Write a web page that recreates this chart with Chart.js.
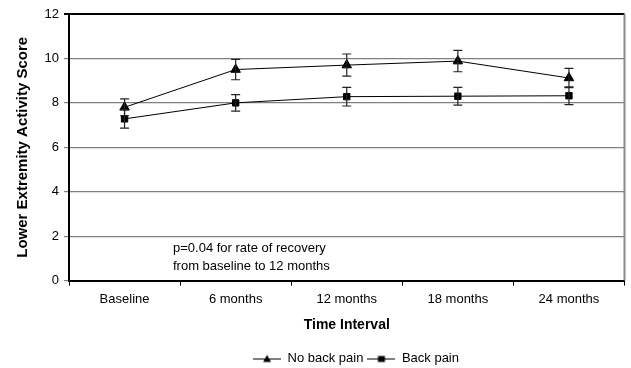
<!DOCTYPE html>
<html>
<head>
<meta charset="utf-8">
<script src="https://cdn.jsdelivr.net/npm/chart.js@4"></script>
<style>
  html, body { margin: 0; padding: 0; background: #fff; }
  #wrap { width: 631px; height: 368px; }
</style>
</head>
<body>
<div id="wrap"><canvas id="chart" width="631" height="368"></canvas></div>
<script>
// values
const categories = ['Baseline', '6 months', '12 months', '18 months', '24 months'];
const noBackPain = [7.8, 9.5, 9.7, 9.88, 9.12];
const noBackPainErr = [0.38, 0.46, 0.5, 0.48, 0.43];
const backPain = [7.28, 8.0, 8.28, 8.3, 8.32];
const backPainErr = [0.42, 0.37, 0.42, 0.4, 0.4];
const yTicks = [0, 2, 4, 6, 8, 10, 12];

Chart.defaults.font.family = "'Liberation Sans', Arial, sans-serif";
Chart.defaults.color = '#000';

// legend symbol: line - marker - line
function legendIcon(shape) {
  const c = document.createElement('canvas');
  c.width = 28; c.height = 10;
  const g = c.getContext('2d');
  g.strokeStyle = '#000'; g.lineWidth = 1;
  g.beginPath(); g.moveTo(0, 5.5); g.lineTo(28, 5.5); g.stroke();
  g.fillStyle = '#000';
  if (shape === 'triangle') {
    g.beginPath(); g.moveTo(14, 1.5); g.lineTo(18, 8.5); g.lineTo(10, 8.5); g.closePath(); g.fill();
  } else {
    g.fillRect(10.5, 2.5, 7, 6);
  }
  return c;
}

// error bars
const errorBars = {
  id: 'errorBars',
  afterDatasetsDraw(chart) {
    const { ctx } = chart;
    const y = chart.scales.y;
    const errs = [noBackPainErr, backPainErr];
    chart.data.datasets.forEach((ds, di) => {
      const meta = chart.getDatasetMeta(di);
      meta.data.forEach((pt, i) => {
        const v = ds.data[i], e = errs[di][i];
        const yt = y.getPixelForValue(v + e), yb = y.getPixelForValue(v - e);
        ctx.save();
        ctx.strokeStyle = '#222';
        ctx.lineWidth = 1.2;
        ctx.beginPath();
        ctx.moveTo(pt.x, yt); ctx.lineTo(pt.x, yb);
        ctx.moveTo(pt.x - 4.5, yt); ctx.lineTo(pt.x + 4.5, yt);
        ctx.moveTo(pt.x - 4.5, yb); ctx.lineTo(pt.x + 4.5, yb);
        ctx.stroke();
        ctx.restore();
      });
    });
  }
};

// right border, the note, and legend shifted under the plot
const extras = {
  id: 'extras',
  afterLayout(chart) {
    const lg = chart.legend;
    lg.left += 42; lg.right += 42;
    lg.top += 8; lg.bottom += 8;
  },
  afterDraw(chart) {
    const { ctx, chartArea: a } = chart;
    const y = chart.scales.y;
    ctx.save();
    ctx.strokeStyle = '#888';
    ctx.lineWidth = 2;
    ctx.beginPath();
    ctx.moveTo(a.right, a.top); ctx.lineTo(a.right, a.bottom);
    ctx.stroke();
    ctx.fillStyle = '#000';
    ctx.font = "13px 'Liberation Sans', Arial, sans-serif";
    ctx.textBaseline = 'middle';
    ctx.fillText('p=0.04 for rate of recovery', a.left + 104, y.getPixelForValue(1.45));
    ctx.fillText('from baseline to 12 months', a.left + 104, y.getPixelForValue(0.62));
    ctx.restore();
  }
};

new Chart(document.getElementById('chart'), {
  type: 'line',
  data: {
    labels: categories,
    datasets: [{
      label: 'No back pain',
      data: noBackPain,
      borderColor: '#000',
      backgroundColor: '#000',
      borderWidth: 1,
      pointStyle: 'triangle',
      pointRadius: 5.5,
      pointHoverRadius: 5.5
    }, {
      label: 'Back pain',
      data: backPain,
      borderColor: '#000',
      backgroundColor: '#000',
      borderWidth: 1,
      pointStyle: 'rect',
      pointRadius: 4.5,
      pointHoverRadius: 4.5
    }]
  },
  options: {
    responsive: false,
    animation: false,
    layout: { padding: { top: 14, right: 3, left: 0, bottom: 1 } },
    plugins: {
      tooltip: { enabled: false },
      legend: {
        position: 'bottom',
        labels: {
          usePointStyle: true,
          pointStyleWidth: 28,
          boxHeight: 10,
          font: { size: 13 },
          padding: 4,
          generateLabels(chart) {
            return chart.data.datasets.map((ds, i) => ({
              text: ds.label,
              pointStyle: legendIcon(i === 0 ? 'triangle' : 'rect'),
              fillStyle: '#000',
              strokeStyle: '#000',
              lineWidth: 0,
              datasetIndex: i,
              fontColor: '#000'
            }));
          }
        }
      }
    },
    scales: {
      x: {
        offset: true,
        grid: { drawOnChartArea: false, offset: true, drawTicks: true, tickLength: 5, color: '#000' },
        border: { color: '#000', width: 2 },
        ticks: { font: { size: 13 }, padding: 6, maxRotation: 0 },
        title: { display: true, text: 'Time Interval', font: { size: 14, weight: 'bold' }, padding: { top: 4, bottom: 6 } }
      },
      y: {
        min: 0,
        max: 12,
        afterBuildTicks(axis) { axis.ticks = yTicks.map(v => ({ value: v })); },
        afterFit(axis) { axis.width = 69; },
        grid: {
          color: ctx => ctx.tick && ctx.tick.value === 12 ? '#000' : '#808080',
          lineWidth: ctx => ctx.tick && ctx.tick.value === 12 ? 2 : 1.2,
          tickLength: 5
        },
        border: { color: '#000', width: 2 },
        ticks: { font: { size: 13 }, padding: 5 },
        title: { display: true, text: 'Lower Extremity Activity Score', font: { size: 15, weight: 'bold' }, padding: { top: 14, bottom: 0 } }
      }
    }
  },
  plugins: [errorBars, extras]
});
</script>
</body>
</html>
